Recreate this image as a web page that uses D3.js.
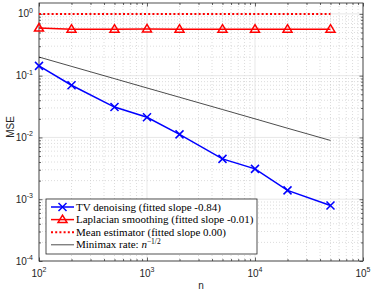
<!DOCTYPE html>
<html>
<head>
<meta charset="utf-8">
<script src="https://cdn.jsdelivr.net/npm/d3@7"></script>
<style>
  body { margin: 0; background: #fff; }
  svg { display: block; }
  .tick-label { font-family: "Liberation Sans", Arial, sans-serif; fill: #262626; }
  .legend-text { font-family: "Liberation Serif", serif; fill: #000; }
</style>
</head>
<body>
<svg id="chart" width="374" height="292"></svg>
<script>
// sample sizes
var sizes = [100, 200, 500, 1000, 2000, 5000, 10000, 20000, 50000];

// MSE per estimator
var tvMse        = [0.144, 0.070, 0.031, 0.0212, 0.0112, 0.0045, 0.0031, 0.00139, 0.00079];
var laplacianMse = [0.59, 0.565, 0.565, 0.57, 0.565, 0.565, 0.565, 0.565, 0.565];
var meanMse      = [1, 1, 1, 1, 1, 1, 1, 1, 1];
var minimaxMse   = [0.2, 0.1414, 0.0894, 0.0632, 0.0447, 0.0283, 0.02, 0.0141, 0.00894];

var xTicks = [1e2, 1e3, 1e4, 1e5];
var yTicks = [1e-4, 1e-3, 1e-2, 1e-1, 1e0];

var legendLabels = [
  'TV denoising (fitted slope -0.84)',
  'Laplacian smoothing (fitted slope -0.01)',
  'Mean estimator (fitted slope 0.00)',
  'Minimax rate: '
];

var svg = d3.select('#chart'),
    plotLeft = 39, plotRight = 363, plotTop = 3, plotBottom = 261;

var x = d3.scaleLog().domain([1e2, 1e5]).range([plotLeft, plotRight]),
    y = d3.scaleLog().domain([1e-4, 1.5]).range([plotBottom, plotTop]);

var minorX = [], minorY = [];
xTicks.slice(0, -1).forEach(function(t) {
  for (var k = 2; k <= 9; k++) minorX.push(t * k);
});
yTicks.forEach(function(t) {
  for (var k = 2; k <= 9; k++) if (t * k <= 1.5) minorY.push(t * k);
});

// grid
var grid = svg.append('g');
grid.selectAll('.gx-minor').data(minorX).enter().append('line')
  .attr('x1', function(d) { return x(d); }).attr('x2', function(d) { return x(d); })
  .attr('y1', plotTop).attr('y2', plotBottom)
  .attr('stroke', '#c4c4c4').attr('stroke-width', 0.6).attr('stroke-dasharray', '1,2');
grid.selectAll('.gy-minor').data(minorY).enter().append('line')
  .attr('y1', function(d) { return y(d); }).attr('y2', function(d) { return y(d); })
  .attr('x1', plotLeft).attr('x2', plotRight)
  .attr('stroke', '#c4c4c4').attr('stroke-width', 0.6).attr('stroke-dasharray', '1,2');
grid.selectAll('.gx').data(xTicks).enter().append('line')
  .attr('x1', function(d) { return x(d); }).attr('x2', function(d) { return x(d); })
  .attr('y1', plotTop).attr('y2', plotBottom)
  .attr('stroke', '#dedede').attr('stroke-width', 0.7);
grid.selectAll('.gy').data(yTicks).enter().append('line')
  .attr('y1', function(d) { return y(d); }).attr('y2', function(d) { return y(d); })
  .attr('x1', plotLeft).attr('x2', plotRight)
  .attr('stroke', '#dedede').attr('stroke-width', 0.7);

// axes with inward ticks on all four sides
var axisColor = '#262626';
function styleAxis(g) {
  g.select('.domain').remove();
  g.selectAll('.tick line').attr('stroke', axisColor).attr('stroke-width', 0.7);
  g.selectAll('.tick text').remove();
}
svg.append('g').attr('transform', 'translate(0,' + plotBottom + ')')
  .call(d3.axisBottom(x).tickValues(xTicks).tickSize(-3.5)).call(styleAxis);
svg.append('g').attr('transform', 'translate(0,' + plotBottom + ')')
  .call(d3.axisBottom(x).tickValues(minorX).tickSize(-2)).call(styleAxis);
svg.append('g').attr('transform', 'translate(0,' + plotTop + ')')
  .call(d3.axisTop(x).tickValues(xTicks).tickSize(-3.5)).call(styleAxis);
svg.append('g').attr('transform', 'translate(0,' + plotTop + ')')
  .call(d3.axisTop(x).tickValues(minorX).tickSize(-2)).call(styleAxis);
svg.append('g').attr('transform', 'translate(' + plotLeft + ',0)')
  .call(d3.axisLeft(y).tickValues(yTicks).tickSize(-3.5)).call(styleAxis);
svg.append('g').attr('transform', 'translate(' + plotLeft + ',0)')
  .call(d3.axisLeft(y).tickValues(minorY).tickSize(-2)).call(styleAxis);
svg.append('g').attr('transform', 'translate(' + plotRight + ',0)')
  .call(d3.axisRight(y).tickValues(yTicks).tickSize(-3.5)).call(styleAxis);
svg.append('g').attr('transform', 'translate(' + plotRight + ',0)')
  .call(d3.axisRight(y).tickValues(minorY).tickSize(-2)).call(styleAxis);

svg.append('rect')
  .attr('x', plotLeft).attr('y', plotTop)
  .attr('width', plotRight - plotLeft).attr('height', plotBottom - plotTop)
  .attr('fill', 'none').attr('stroke', axisColor).attr('stroke-width', 0.8);

// tick labels 10^k
function powLabel(sel, exp) {
  sel.append('tspan').text('10');
  sel.append('tspan').attr('dy', -4.5).attr('font-size', 7).text(exp < 0 ? '-' + (-exp) : exp);
}
xTicks.forEach(function(t) {
  var lbl = svg.append('text').attr('class', 'tick-label')
    .attr('x', x(t)).attr('y', plotBottom + 15.5).attr('font-size', 10)
    .attr('text-anchor', 'middle');
  powLabel(lbl, Math.round(Math.log10(t)));
});
yTicks.forEach(function(t) {
  var lbl = svg.append('text').attr('class', 'tick-label')
    .attr('x', plotLeft - 6).attr('y', y(t) + 3.5).attr('font-size', 10)
    .attr('text-anchor', 'end');
  powLabel(lbl, Math.round(Math.log10(t)));
});

svg.append('text').attr('class', 'tick-label')
  .attr('x', (plotLeft + plotRight) / 2).attr('y', 289).attr('font-size', 10)
  .attr('text-anchor', 'middle').text('n');
svg.append('text').attr('class', 'tick-label')
  .attr('transform', 'translate(14,127) rotate(-90)')
  .attr('font-size', 10).attr('text-anchor', 'middle').text('MSE');

// series
var line = d3.line()
  .x(function(d) { return x(d[0]); })
  .y(function(d) { return y(d[1]); });

function pairs(vals) { return sizes.map(function(n, i) { return [n, vals[i]]; }); }

var plot = svg.append('g');

plot.append('path').datum(pairs(minimaxMse))
  .attr('d', line).attr('fill', 'none').attr('stroke', '#000').attr('stroke-width', 0.7);

plot.append('path').datum(pairs(meanMse))
  .attr('d', line).attr('fill', 'none').attr('stroke', '#ff0000')
  .attr('stroke-width', 2).attr('stroke-dasharray', '2,2.2');

plot.append('path').datum(pairs(laplacianMse))
  .attr('d', line).attr('fill', 'none').attr('stroke', '#ff0000').attr('stroke-width', 1.5);

plot.append('path').datum(pairs(tvMse))
  .attr('d', line).attr('fill', 'none').attr('stroke', '#0000ff').attr('stroke-width', 1.5);

var triangle = 'M0,-4.5L4.5,3L-4.5,3Z',
    cross = 'M-4,-4L4,4M-4,4L4,-4';

plot.selectAll('.tri').data(pairs(laplacianMse)).enter().append('path')
  .attr('transform', function(d) { return 'translate(' + x(d[0]) + ',' + y(d[1]) + ')'; })
  .attr('d', triangle).attr('fill', 'none').attr('stroke', '#ff0000').attr('stroke-width', 1.5);

plot.selectAll('.cross').data(pairs(tvMse)).enter().append('path')
  .attr('transform', function(d) { return 'translate(' + x(d[0]) + ',' + y(d[1]) + ')'; })
  .attr('d', cross).attr('fill', 'none').attr('stroke', '#0000ff').attr('stroke-width', 1.5);

// legend
var lg = svg.append('g');
lg.append('rect')
  .attr('x', 46).attr('y', 199).attr('width', 211).attr('height', 55)
  .attr('fill', '#fff').attr('stroke', axisColor).attr('stroke-width', 0.8);

var legendStyles = [
  { color: '#0000ff', width: 1.5, dash: null, marker: cross },
  { color: '#ff0000', width: 1.5, dash: null, marker: triangle },
  { color: '#ff0000', width: 2, dash: '2,2.2', marker: null },
  { color: '#000', width: 0.7, dash: null, marker: null }
];

legendLabels.forEach(function(label, i) {
  var s = legendStyles[i],
      ly = 207 + i * 12.6,
      row = lg.append('g');
  row.append('line')
    .attr('x1', 51).attr('x2', 74).attr('y1', ly).attr('y2', ly)
    .attr('stroke', s.color).attr('stroke-width', s.width)
    .attr('stroke-dasharray', s.dash);
  if (s.marker)
    row.append('path').attr('transform', 'translate(62.5,' + ly + ')')
      .attr('d', s.marker).attr('fill', 'none')
      .attr('stroke', s.color).attr('stroke-width', 1.5);
  var t = row.append('text').attr('class', 'legend-text')
    .attr('x', 76).attr('y', ly + 3.5).attr('font-size', 11);
  t.append('tspan').text(label);
  if (i === 3) {
    t.append('tspan').attr('font-style', 'italic').text('n');
    t.append('tspan').attr('dy', -4).attr('font-size', 7.5).text('\u22121/2');
  }
});
</script>
</body>
</html>
